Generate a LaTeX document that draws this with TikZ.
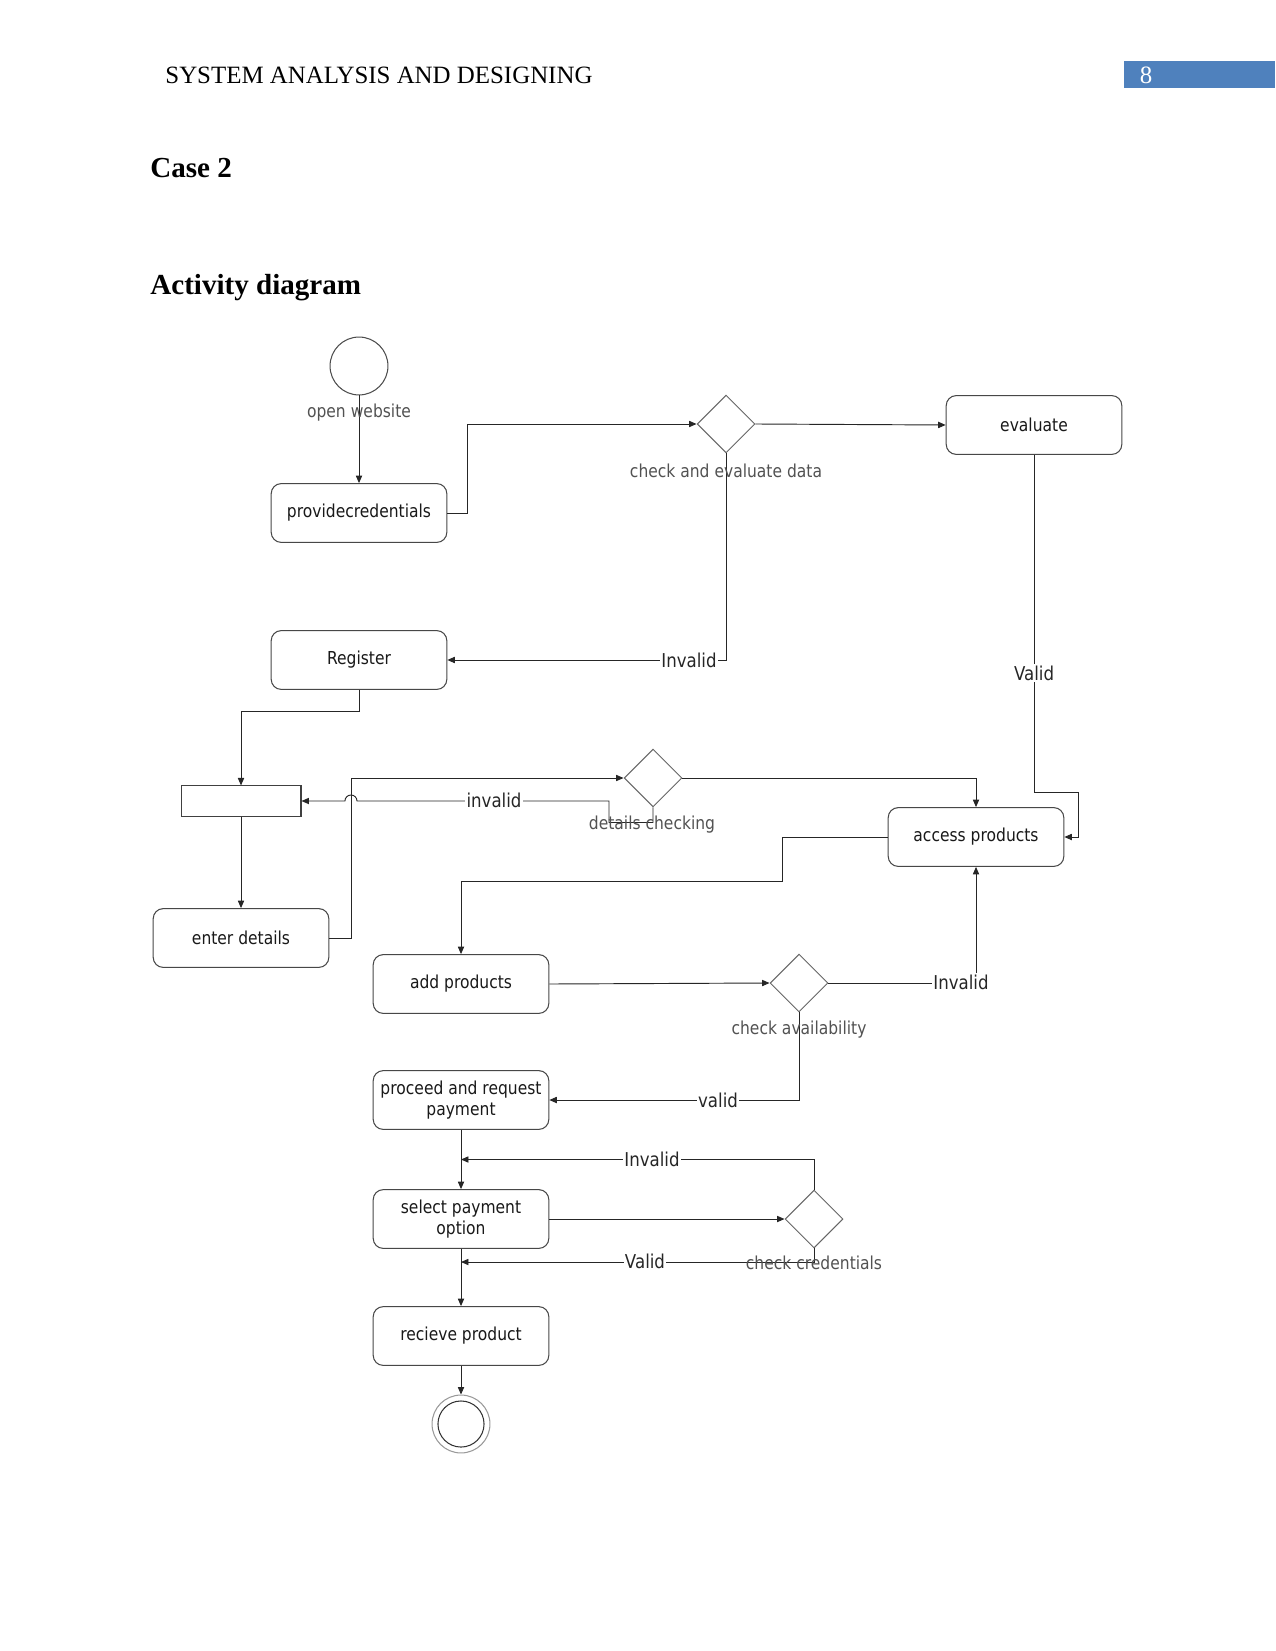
\documentclass[tikz,border=0pt]{standalone}
\usepackage{fontspec}
\setmainfont{Liberation Serif}
\newfontfamily\diafont[FakeStretch=0.87]{DejaVu Sans}
\usetikzlibrary{shapes.geometric,arrows.meta,calc}
\definecolor{hdrblue}{HTML}{4F81BD}
\begin{document}
\begin{tikzpicture}[x=0.4818pt,y=-0.4818pt,
  act/.style={draw=black!72, rounded corners=4.8pt, minimum width=84.6pt, minimum height=28.3pt,
    inner sep=1pt, font=\diafont\fontsize{8.6}{10.5}\selectfont, text=black!90, align=center, line width=0.5pt},
  dec/.style={diamond, draw=black!60, minimum width=27.9pt, minimum height=27.9pt, inner sep=0pt, line width=0.5pt},
  flow/.style={draw=black!85, line width=0.45pt, -{Triangle[length=3.6pt,width=3pt]}},
  elbl/.style={fill=white, inner sep=0.6pt, font=\diafont\fontsize{9.2}{11}\selectfont, text=black!85},
  dlbl/.style={inner sep=0pt, font=\diafont\fontsize{8.6}{10}\selectfont, text=black!68}]
\fill[white] (0,0) rectangle (1275,1651);
\useasboundingbox (0,0) rectangle (1275,1651);

% header
\fill[hdrblue] (1124,61) rectangle (1275,88);
\node[anchor=base west, inner sep=0, font=\fontsize{12}{14}\selectfont] (hdr) at (165,84) {SYSTEM ANALYSIS AND DESIGNING};
\node[anchor=base, inner sep=0, text=white, font=\fontsize{12}{14}\selectfont] (pg) at (1146,84) {8};
\node[anchor=base west, inner sep=0, font=\bfseries\fontsize{14}{16}\selectfont] (case) at (150,178) {Case 2};
\node[anchor=base west, inner sep=0, font=\bfseries\fontsize{14}{16}\selectfont] (act) at (150,295) {Activity diagram};

% nodes
\node[circle, draw=black!70, minimum size=27.9pt, inner sep=0pt, line width=0.5pt] (start) at (359,366) {};
\node[act] (provide) at (359,513) {providecredentials};
\node[dec] (d1) at (726,424) {};
\node[act] (evaluate) at (1034,425) {evaluate};
\node[act] (register) at (359,660) {Register};
\node[draw=black!75, minimum width=57.8pt, minimum height=14.5pt, inner sep=0pt, line width=0.5pt] (bar) at (241,801) {};
\node[act] (enter) at (241,938) {enter details};
\node[dec] (d2) at (653,778) {};
\node[act] (access) at (976,837) {access products};
\node[act] (add) at (461,984) {add products};
\node[dec] (d3) at (799,983) {};
\node[act] (proceed) at (461,1100) {proceed and request\\payment};
\node[act] (select) at (461,1219) {select payment\\option};
\node[dec] (d4) at (814,1219) {};
\node[act] (receive) at (461,1336) {recieve product};
\node[circle, draw=black!40, minimum size=27.9pt, inner sep=0pt, line width=0.5pt] (final) at (461,1424) {};
\node[circle, draw=black!80, minimum size=22.2pt, inner sep=0pt, line width=0.5pt] (finalin) at (final) {};

\coordinate (v1) at (1078,792);
\coordinate (a1) at (782,881);
\coordinate (j2) at (461,1262);

% connectors
\draw[flow] (start.south) -- (start.south |- provide.north);
\draw[flow] (provide.east) -- ++(20,0) |- (d1.west);
\draw[flow] (d1.east) -- (evaluate.west);
\draw[flow] (d1.south) |- (register.east);
\draw[flow] (evaluate.south) |- (v1) |- (access.east);
\draw[flow] (register.south) -- ++(0,22) -| (bar.north);
\draw[flow] (bar.south) -- (bar.south |- enter.north);
\draw[flow] (enter.east) -- ++(22,0) |- (d2.west);
\draw[flow] (d2.south) -- ++(0,15) -| (609,801) -- (357,801)
   arc[start angle=0,end angle=180,radius=2.9pt] -- (bar.east);
\draw[flow] (d2.east) -| (access.north);
\draw[flow] (access.west) -| (a1) -| (add.north);
\draw[flow] (add.east) -- (d3.west);
\draw[flow] (d3.east) -| (access.south);
\draw[flow] (d3.south) |- (proceed.east);
\draw[flow] (proceed.south) -- (select.north);
\draw[flow] (select.east) -- (d4.west);
\draw[flow] (d4.north) |- ($(proceed.south)!0.5!(select.north)$);
\draw[flow] (d4.south) |- (j2);
\draw[flow] (select.south) -- (receive.north);
\draw[flow] (receive.south) -- (final.north);

% labels
\node[dlbl] (lopen) at (359,413) {open website};
\node[dlbl] (ld1) at (726,471) {check and evaluate data};
\node[dlbl] (ld2) at (652,825) {details checking};
\node[dlbl] (ld3) at (799,1030) {check availability};
\node[dlbl] (ld4) at (814,1263) {check credentials};
\node[elbl] (e1) at (689,660) {Invalid};
\node[elbl] (e2) at (1034,673) {Valid};
\node[elbl] (e3) at (494,800) {invalid};
\node[elbl] (e4) at (961,982) {Invalid};
\node[elbl] (e5) at (718,1100) {valid};
\node[elbl] (e6) at (652,1159) {Invalid};
\node[elbl] (e7) at (645,1261) {Valid};
\end{tikzpicture}
\end{document}
